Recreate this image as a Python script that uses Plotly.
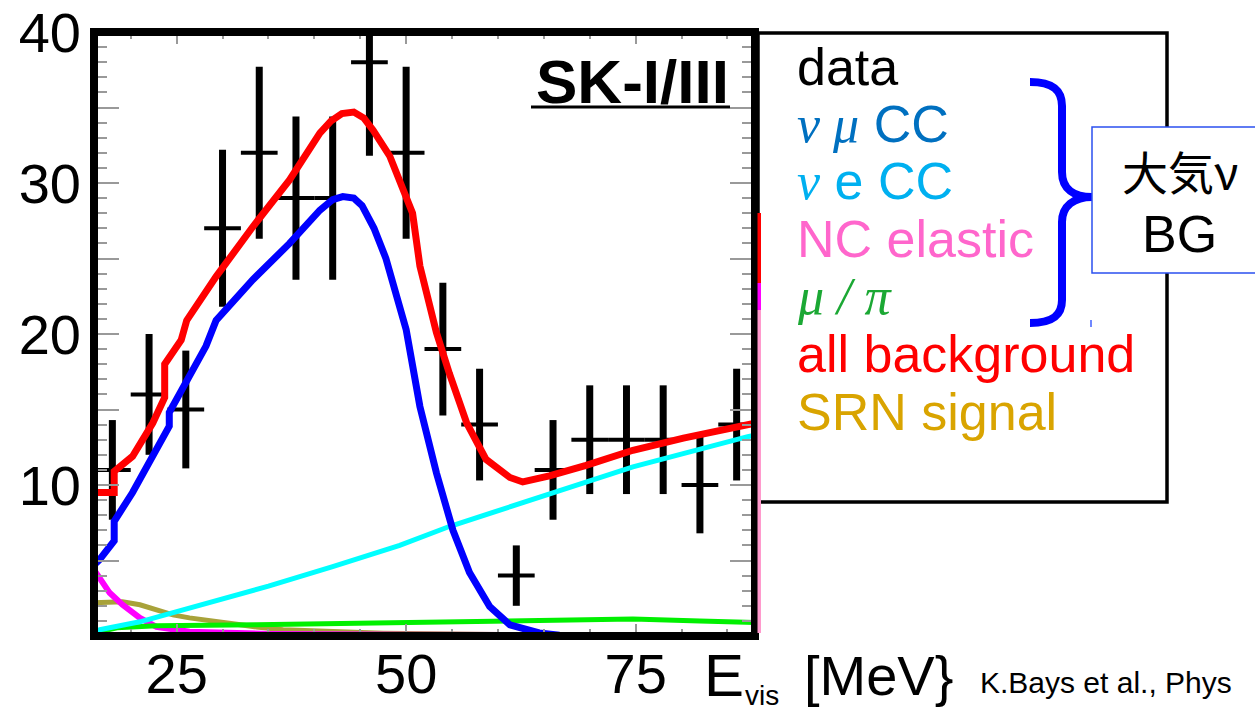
import plotly.graph_objects as go

# ---------------- data ----------------
energy = [18, 22, 26, 30, 34, 38, 42, 46, 50, 54, 58, 62, 66, 70, 74, 78, 82, 86]
events = [11, 16, 15, 27, 32, 29, 29, 38, 32, 19, 14, 4, 11, 13, 13, 13, 10, 14]
event_err = [3.3, 4.0, 3.9, 5.2, 5.7, 5.4, 5.4, 6.2, 5.7, 4.4, 3.7, 2.0, 3.3, 3.6, 3.6, 3.6, 3.2, 3.7]
bin_half_width = 2

all_bg_x = [16.0, 18.2, 18.2, 20.2, 22.4, 23.7, 23.7, 25.5, 26.1, 29.3, 33.3, 37.3, 40.6, 41.8, 43.0,
            44.3, 45.4, 46.4, 48.2, 50.7, 51.5, 53.3, 54.7, 56.6, 58.7, 61.3, 62.7, 65.6, 69.6, 74.7,
            80.2, 87.2, 88.0]
all_bg_y = [9.5, 9.5, 10.9, 11.9, 14.1, 15.8, 18.0, 19.6, 20.9, 23.8, 27.1, 30.2, 33.3, 34.1, 34.6,
            34.7, 34.3, 33.5, 31.8, 28.0, 24.5, 20.1, 17.4, 14.1, 11.7, 10.5, 10.2, 10.6, 11.3, 12.3,
            13.1, 14.0, 14.1]

numu_x = [16.0, 16.6, 18.2, 18.2, 20.2, 22.4, 24.2, 24.2, 26.1, 28.2, 29.3, 33.3, 37.3, 40.6, 42.0,
          43.1, 44.3, 45.2, 46.5, 47.8, 50.0, 51.5, 53.3, 55.1, 56.9, 59.1, 61.3, 64.5, 66.7, 88.0]
numu_y = [4.7, 5.05, 6.3, 7.6, 9.5, 11.9, 13.9, 14.8, 17.0, 19.2, 20.9, 23.6, 26.0, 28.2, 28.9,
          29.1, 29.0, 28.5, 27.0, 25.0, 20.3, 15.2, 10.8, 7.0, 4.2, 1.95, 0.74, 0.2, 0.05, 0.0]

nue_x = [16.0, 16.6, 21.0, 24.6, 28.3, 33.7, 35.0, 42.0, 49.3, 54.7, 65.6, 74.7, 87.2, 88.0]
nue_y = [0.35, 0.41, 0.94, 1.54, 2.2, 3.06, 3.3, 4.6, 6.0, 7.25, 9.45, 11.2, 13.2, 13.3]

nc_x = [16.0, 16.6, 17.7, 19.1, 21.0, 22.8, 24.6, 26.4, 35.0, 50.0, 88.0]
nc_y = [4.4, 3.8, 2.86, 2.07, 1.2, 0.61, 0.41, 0.28, 0.14, 0.08, 0.05]

mupi_x = [16.0, 16.6, 18.5, 22.8, 33.7, 42.0, 51.1, 60.2, 74.7, 82.0, 88.0]
mupi_y = [0.25, 0.28, 0.54, 0.68, 0.74, 0.81, 0.96, 1.03, 1.12, 1.0, 0.9]

srn_x = [16.0, 16.6, 19.1, 21.0, 22.8, 24.6, 26.4, 30.0, 33.7, 36.6, 42.0, 47.5, 60.0, 88.0]
srn_y = [2.2, 2.2, 2.27, 2.07, 1.74, 1.4, 1.2, 0.87, 0.6, 0.41, 0.26, 0.19, 0.1, 0.03]

x_tick_vals = [25, 50, 75]
x_tick_text = ["25", "50", "75"]
y_tick_vals = [0, 5, 10, 15, 20, 25, 30, 35, 40]
y_tick_text = ["", "", "10", "", "20", "", "30", "", "40"]

legend_items = [
    ("data", "#000000"),
    ("<span style=\"font-family:Liberation Serif\"><i>ν μ</i></span> CC", "#0070C0"),
    ("<span style=\"font-family:Liberation Serif\"><i>ν</i></span> e CC", "#00B0F0"),
    ("NC elastic", "#FF66CC"),
    ("<span style=\"font-family:Liberation Serif\"><i>μ / π</i></span>", "#1BA834"),
    ("all background", "#FF0000"),
    ("SRN signal", "#D9A400"),
]

# ---------------- geometry ----------------
W, H = 1255, 713
L, R, T, B = 94, 500, 32, 77
PW, PH = W - L - R, H - T - B


def px(x):
    return (x - L) / PW


def py(y):
    return (H - B - y) / PH


fig = go.Figure()

fig.add_trace(go.Scatter(
    x=energy, y=events, mode="markers",
    marker=dict(size=1, color="black"),
    error_y=dict(type="data", array=event_err, color="black", thickness=7, width=0),
    error_x=dict(type="constant", value=bin_half_width, color="black", thickness=4, width=0),
    hoverinfo="skip"))

curves = [
    (srn_x, srn_y, "#A8A23A", 5),
    (nc_x, nc_y, "#FF00FF", 6),
    (mupi_x, mupi_y, "#00F000", 5),
    (nue_x, nue_y, "#00FFFF", 5),
    (numu_x, numu_y, "#0000FF", 7),
    (all_bg_x, all_bg_y, "#FF0000", 7),
]
for cx, cy, col, lw in curves:
    fig.add_trace(go.Scatter(x=cx, y=cy, mode="lines", line=dict(color=col, width=lw),
                             hoverinfo="skip"))

tickfont = dict(family="Liberation Sans", size=56, color="black")
fig.update_layout(
    width=W, height=H, margin=dict(l=L, r=R, t=T, b=B, autoexpand=False),
    plot_bgcolor="white", paper_bgcolor="white", showlegend=False,
    xaxis=dict(range=[16, 88], tickvals=x_tick_vals, ticktext=x_tick_text, automargin=False,
               ticks="inside", ticklen=12, tickwidth=1.5, tickcolor="#999999",
               mirror="allticks", showline=False, showgrid=False, zeroline=False,
               tickfont=tickfont,
               minor=dict(dtick=5, tick0=0, ticks="inside", ticklen=7, tickwidth=1.5,
                          tickcolor="#999999", showgrid=False)),
    yaxis=dict(range=[0, 40], tickvals=y_tick_vals, ticktext=y_tick_text, automargin=False,
               ticks="inside", ticklen=25, tickwidth=1.5, tickcolor="#999999",
               mirror="allticks", showline=False, showgrid=False, zeroline=False,
               tickfont=tickfont, ticklabelstandoff=12,
               minor=dict(dtick=1, tick0=0, ticks="inside", ticklen=13, tickwidth=1.5,
                          tickcolor="#999999", showgrid=False)),
)

shapes = []
# plot frame
shapes.append(dict(type="rect", xref="paper", yref="paper", x0=0, x1=1, y0=0, y1=1,
                   line=dict(color="black", width=8), layer="above"))
# legend box
shapes.append(dict(type="rect", xref="paper", yref="paper", x0=px(758), x1=px(1167),
                   y0=py(502), y1=py(33), line=dict(color="black", width=3.5),
                   fillcolor="rgba(0,0,0,0)", layer="above"))
# colored edge strips (from source image)
for y0, y1, col in [(213, 283, "#FF0000"), (283, 310, "#FF00FF"), (310, 633, "#FF9ACD")]:
    shapes.append(dict(type="rect", xref="paper", yref="paper", x0=px(757.5), x1=px(761),
                       y0=py(y1), y1=py(y0), line=dict(width=0), fillcolor=col, layer="above"))
# underline of SK-I/III
shapes.append(dict(type="line", xref="paper", yref="paper", x0=px(531), x1=px(730),
                   y0=py(107), y1=py(107), line=dict(color="black", width=3), layer="above"))
# brace
bp = [("M", [(1030, 82)]), ("C", [(1053, 82), (1062, 90), (1062, 106)]), ("L", [(1062, 172)]),
      ("C", [(1062, 189), (1074, 197), (1092, 197)]), ("C", [(1074, 197), (1062, 206), (1062, 222)]),
      ("L", [(1062, 300)]), ("C", [(1062, 315), (1053, 323), (1030, 323)])]
path = " ".join(cmd + " " + " ".join(f"{px(a):.5f},{py(b):.5f}" for a, b in pts) for cmd, pts in bp)
shapes.append(dict(type="path", xref="paper", yref="paper", path=path,
                   line=dict(color="#0000FF", width=8), layer="above"))
# atmospheric BG box
shapes.append(dict(type="rect", xref="paper", yref="paper", x0=px(1092), x1=px(1270),
                   y0=py(273), y1=py(127), line=dict(color="#2B50F0", width=1.5),
                   fillcolor="white", layer="above"))
shapes.append(dict(type="line", xref="paper", yref="paper", x0=px(1091), x1=px(1091),
                   y0=py(327), y1=py(320), line=dict(color="#4060FF", width=1.5), layer="above"))
fig.update_layout(shapes=shapes)

ann = []
legend_centers = [67, 124, 181, 239, 296, 354, 412]
for (txt, col), yc in zip(legend_items, legend_centers):
    ann.append(dict(text=txt, x=px(795), y=py(yc), xref="paper", yref="paper",
                    xanchor="left", yanchor="middle", showarrow=False,
                    font=dict(family="Liberation Sans", size=52, color=col)))
ann.append(dict(text="<b>SK-I/III</b>", x=px(731), y=py(82), xref="paper", yref="paper",
                xanchor="right", yanchor="middle", showarrow=False,
                font=dict(family="Liberation Sans", size=62, color="black")))
ann.append(dict(text="大気ν", x=px(1180), y=py(170), xref="paper", yref="paper",
                xanchor="center", yanchor="middle", showarrow=False,
                font=dict(family="Noto Sans CJK JP", size=46, color="black")))
ann.append(dict(text="BG", x=px(1179), y=py(234), xref="paper", yref="paper",
                xanchor="center", yanchor="middle", showarrow=False,
                font=dict(family="Liberation Sans", size=52, color="black")))
ann.append(dict(text="E", x=px(724), y=py(675), xref="paper", yref="paper",
                xanchor="center", yanchor="middle", showarrow=False,
                font=dict(family="Liberation Sans", size=60, color="black")))
ann.append(dict(text="vis", x=px(762), y=py(713), xref="paper", yref="paper",
                xanchor="center", yanchor="bottom", showarrow=False,
                font=dict(family="Liberation Sans", size=28, color="black")))
ann.append(dict(text="[MeV}", x=px(878), y=py(675), xref="paper", yref="paper",
                xanchor="center", yanchor="middle", showarrow=False,
                font=dict(family="Liberation Sans", size=56, color="black")))
ann.append(dict(text="K.Bays et al., Phys", x=px(978), y=py(682), xref="paper", yref="paper",
                xanchor="left", yanchor="middle", showarrow=False,
                font=dict(family="Liberation Sans", size=30, color="black")))
fig.update_layout(annotations=ann)

fig.write_html("out.html")
